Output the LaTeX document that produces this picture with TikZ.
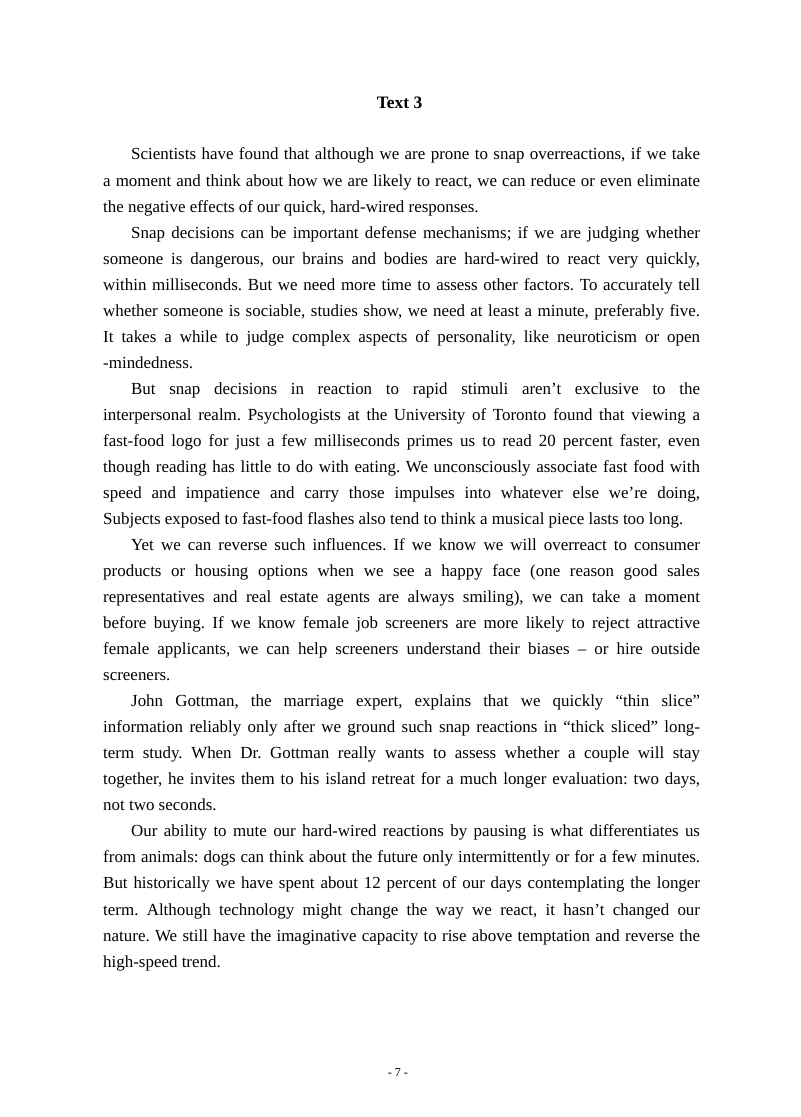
\documentclass[tikz,border=0pt]{standalone}
\usepackage{fontspec}
\setmainfont{Liberation Serif}
\begin{document}
\begin{tikzpicture}[x=1pt,y=1pt,
  body/.style={anchor=base west,inner sep=0pt,align=left},
  title/.style={anchor=base,inner sep=0pt,font=\bfseries\fontsize{13}{15}\selectfont}]
\useasboundingbox (0,0) rectangle (595.2,-831);
\node[title] (t) at (297.3,-81) {Text 3};
\node[body] (b) at (76.6,-119) {\begin{minipage}[t]{444pt}
\fontsize{12.6}{19.37}\selectfont\frenchspacing\setlength{\parindent}{20.8pt}\setlength{\parskip}{0pt}
\indent Scientists have found that although we are prone to snap overreactions, if we take\linebreak
a moment and think about how we are likely to react, we can reduce or even eliminate\linebreak
the negative effects of our quick, hard-wired responses.\par
Snap decisions can be important defense mechanisms; if we are judging whether\linebreak
someone is dangerous, our brains and bodies are hard-wired to react very quickly,\linebreak
within milliseconds. But we need more time to assess other factors. To accurately tell\linebreak
whether someone is sociable, studies show, we need at least a minute, preferably five.\linebreak
It takes a while to judge complex aspects of personality, like neuroticism or open\linebreak
-mindedness.\par
But snap decisions in reaction to rapid stimuli aren’t exclusive to the\linebreak
interpersonal realm. Psychologists at the University of Toronto found that viewing a\linebreak
fast-food logo for just a few milliseconds primes us to read 20 percent faster, even\linebreak
though reading has little to do with eating. We unconsciously associate fast food with\linebreak
speed and impatience and carry those impulses into whatever else we’re doing,\linebreak
Subjects exposed to fast-food flashes also tend to think a musical piece lasts too long.\par
Yet we can reverse such influences. If we know we will overreact to consumer\linebreak
products or housing options when we see a happy face (one reason good sales\linebreak
representatives and real estate agents are always smiling), we can take a moment\linebreak
before buying. If we know female job screeners are more likely to reject attractive\linebreak
female applicants, we can help screeners understand their biases -- or hire outside\linebreak
screeners.\par
John Gottman, the marriage expert, explains that we quickly “thin slice”\linebreak
information reliably only after we ground such snap reactions in “thick sliced” long-\linebreak
term study. When Dr.~Gottman really wants to assess whether a couple will stay\linebreak
together, he invites them to his island retreat for a much longer evaluation: two days,\linebreak
not two seconds.\par
Our ability to mute our hard-wired reactions by pausing is what differentiates us\linebreak
from animals: dogs can think about the future only intermittently or for a few minutes.\linebreak
But historically we have spent about 12 percent of our days contemplating the longer\linebreak
term. Although technology might change the way we react, it hasn’t changed our\linebreak
nature. We still have the imaginative capacity to rise above temptation and reverse the\linebreak
high-speed trend.\par
\end{minipage}};
\node[anchor=base,inner sep=0pt,font=\fontsize{9}{10}\selectfont] (p) at (296,-801) {- 7 -};
\end{tikzpicture}
\end{document}
